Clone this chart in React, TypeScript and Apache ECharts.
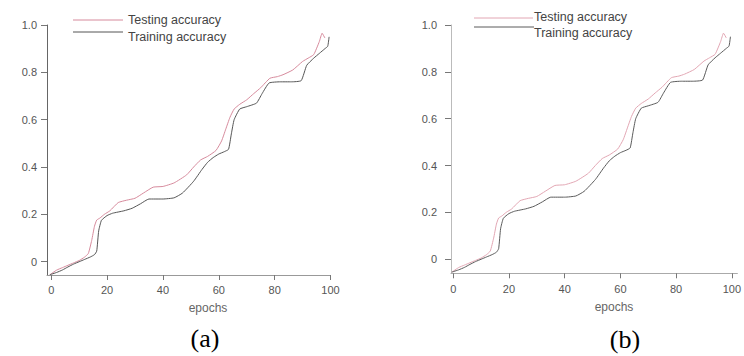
import React, { useEffect, useRef } from "react";
import * as echarts from "echarts";

const epochTicks = [0, 20, 40, 60, 80, 100];
const accuracyTicks = [0, 0.2, 0.4, 0.6, 0.8, 1.0];
const seriesNames = ["Testing accuracy", "Training accuracy"];
const panelLabels = ["(a)", "(b)"];
const xAxisTitle = "epochs";

const testingEpochs = [-0.5, 2, 4, 6, 8, 10, 12, 13.3, 14.5, 15.5, 16.3, 17.5, 19, 21, 24, 27, 30, 33, 36.5, 40, 44, 48.5, 51, 53.5, 56, 59, 61, 62.5, 64, 65.5, 67.5, 70, 72.5, 75, 78.3, 81, 83, 86.5, 90, 92, 94, 96, 97, 98];
const testingAccuracy = [-0.055, -0.035, -0.025, -0.015, -0.005, 0.005, 0.02, 0.035, 0.09, 0.15, 0.176, 0.185, 0.2, 0.215, 0.25, 0.26, 0.268, 0.29, 0.315, 0.318, 0.333, 0.367, 0.4, 0.43, 0.445, 0.47, 0.51, 0.56, 0.61, 0.645, 0.665, 0.684, 0.71, 0.735, 0.775, 0.782, 0.79, 0.81, 0.846, 0.86, 0.875, 0.93, 0.965, 0.945];

const trainingEpochs = [-0.5, 2, 4, 6, 8, 10, 12, 14, 15.5, 16.3, 17, 18, 20, 22, 26, 29, 32, 35, 40, 44, 47, 51, 54, 56, 58, 60, 62, 63.5, 64.5, 65.5, 67.5, 70, 73.5, 75.5, 78, 82, 86, 89.5, 91.5, 94, 96, 98, 99, 99.5];
const trainingAccuracy = [-0.055, -0.045, -0.035, -0.022, -0.01, 0.0, 0.01, 0.02, 0.03, 0.045, 0.13, 0.175, 0.195, 0.205, 0.215, 0.226, 0.245, 0.265, 0.265, 0.27, 0.29, 0.34, 0.39, 0.42, 0.44, 0.455, 0.465, 0.475, 0.54, 0.6, 0.645, 0.655, 0.67, 0.71, 0.755, 0.76, 0.76, 0.765, 0.83, 0.86, 0.88, 0.9, 0.91, 0.95];

const zip = (xs: number[], ys: number[]) => xs.map((x, i) => [x, ys[i]]);

const FONT = "Liberation Sans, Arial, sans-serif";
const SERIF = "Liberation Serif, Times New Roman, serif";

export default function App() {
  const ref = useRef<HTMLDivElement>(null);
  useEffect(() => {
    if (!ref.current) return;
    const chart = echarts.init(ref.current, undefined, { renderer: "svg" });

    const mkX = (gridIndex: number, min: number, max: number, color: string, margin: number) => ({
      type: "value",
      gridIndex,
      min,
      max,
      axisLine: { show: true, onZero: false, lineStyle: { color, width: 1 } },
      axisTick: { show: true, customValues: epochTicks, length: 5, lineStyle: { color: "#777" } },
      axisLabel: { customValues: epochTicks, margin, fontSize: 11, color: "#555", fontFamily: FONT },
      splitLine: { show: false },
    });
    const mkY = (gridIndex: number, min: number, color: string, margin: number) => ({
      type: "value",
      gridIndex,
      min,
      max: 1.0,
      axisLine: { show: true, onZero: false, lineStyle: { color, width: 1 } },
      axisTick: { show: true, customValues: accuracyTicks, length: 6, lineStyle: { color: "#777" } },
      axisLabel: {
        customValues: accuracyTicks,
        margin,
        fontSize: 11,
        color: "#555",
        fontFamily: FONT,
        formatter: (v: number) => (Math.abs(v) < 1e-9 ? "0" : v.toFixed(1)),
      },
      splitLine: { show: false },
    });

    const pinkA = "#d68a9c";
    const darkA = "#555555";
    const pinkB = "#e2a6b3";
    const darkB = "#5a5a5a";

    const line = (name: string, xi: number, data: number[][], color: string) => ({
      type: "line",
      name,
      xAxisIndex: xi,
      yAxisIndex: xi,
      data,
      showSymbol: false,
      smooth: 0.15,
      lineStyle: { color, width: 1 },
      itemStyle: { color },
    });

    const legendText = (x: number, y: number, text: string) => ({
      type: "text",
      x,
      y,
      style: { text, fill: "#444", fontSize: 12.5, fontFamily: FONT, verticalAlign: "middle" },
    });
    const legendLine = (x1: number, x2: number, y: number, color: string) => ({
      type: "line",
      shape: { x1, y1: y, x2, y2: y },
      style: { stroke: color, lineWidth: 1 },
    });
    const axisTitle = (x: number, y: number) => ({
      type: "text",
      x,
      y,
      style: { text: xAxisTitle, fill: "#666", fontSize: 12, fontFamily: FONT, align: "center", verticalAlign: "middle" },
    });
    const panelTitle = (left: number, top: number, text: string) => ({
      text,
      left,
      top,
      textAlign: "center",
      padding: 0,
      textStyle: { color: "#000", fontSize: 26, fontWeight: "normal", fontFamily: SERIF },
    });

    chart.setOption({
      animation: false,
      title: [panelTitle(205, 325, panelLabels[0]), panelTitle(625, 326, panelLabels[1])],
      grid: [
        { left: 47, top: 25, width: 283.5, height: 250 },
        { left: 451, top: 25, width: 293, height: 248.3 },
      ],
      xAxis: [mkX(0, -1.5, 100, "#999", 9), mkX(1, -0.8, 102, "#aaa", 10)],
      yAxis: [mkY(0, -0.056, "#666", 10), mkY(1, -0.06, "#bbb", 14)],
      series: [
        line(seriesNames[0], 0, zip(testingEpochs, testingAccuracy), pinkA),
        line(seriesNames[1], 0, zip(trainingEpochs, trainingAccuracy), darkA),
        line(seriesNames[0], 1, zip(testingEpochs, testingAccuracy), pinkB),
        line(seriesNames[1], 1, zip(trainingEpochs, trainingAccuracy), darkB),
      ],
      graphic: [
        legendLine(73, 123, 20, pinkA),
        legendText(128, 20, seriesNames[0]),
        legendLine(73, 123, 32, darkA),
        legendText(128, 37, seriesNames[1]),
        legendLine(474, 533, 18, pinkB),
        legendText(534, 17, seriesNames[0]),
        legendLine(474, 534, 27, darkB),
        legendText(534, 33, seriesNames[1]),
        axisTitle(208, 308),
        axisTitle(614, 307),
      ],
    });
    return () => chart.dispose();
  }, []);
  return (
    <div
      ref={ref}
      style={{ position: "absolute", left: 0, top: 0, width: 744, height: 356, background: "#fff" }}
    />
  );
}
